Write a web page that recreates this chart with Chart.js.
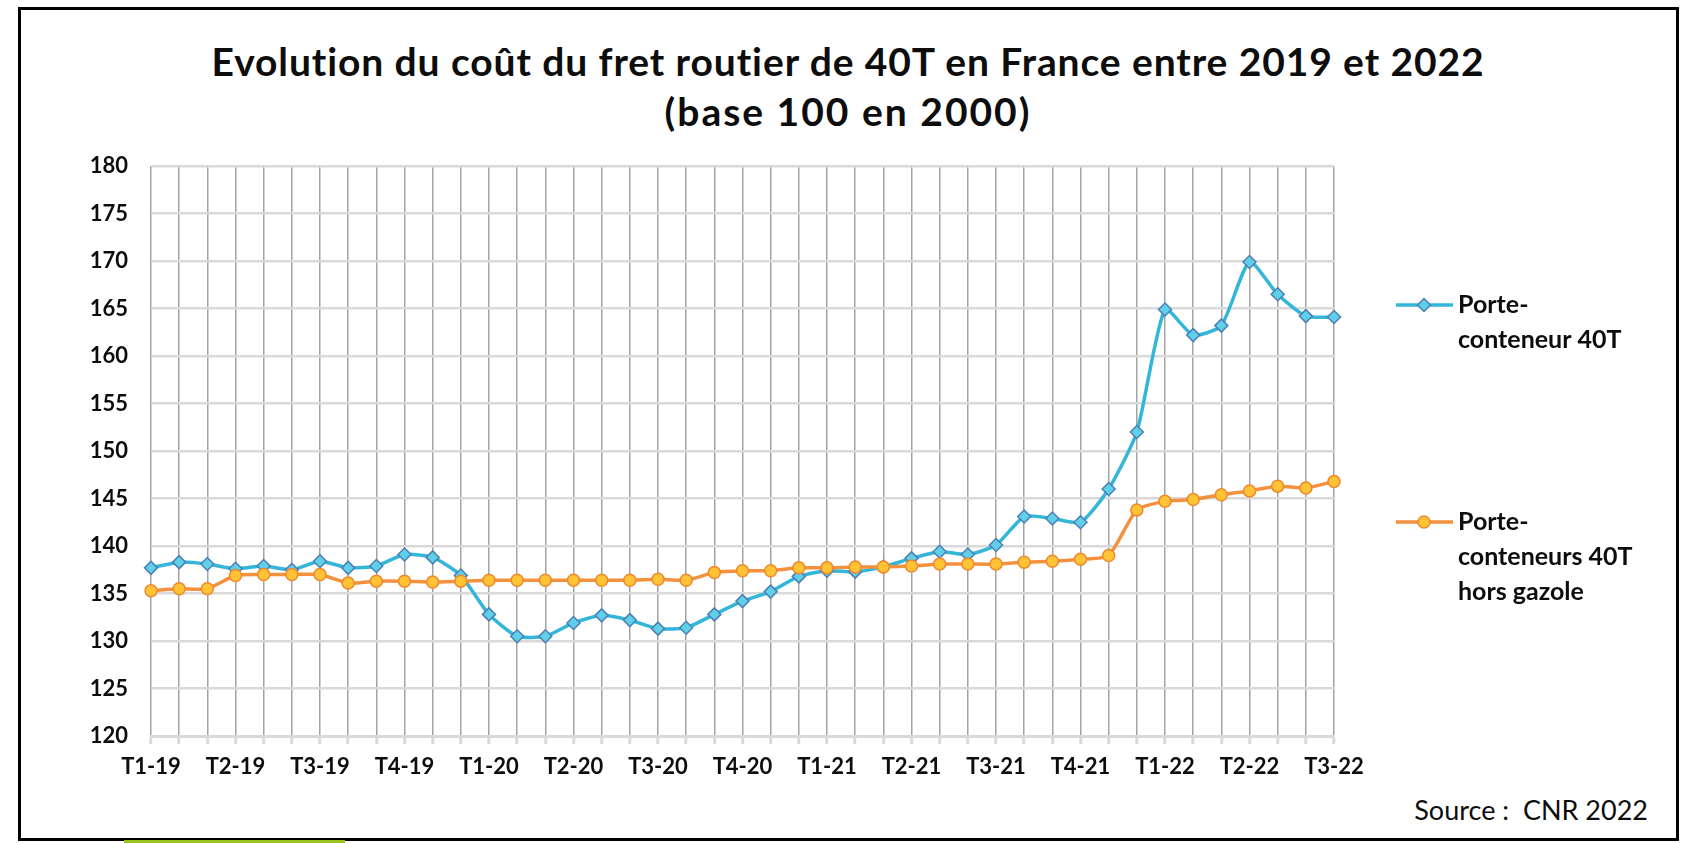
<!DOCTYPE html>
<html lang="fr">
<head>
<meta charset="utf-8">
<script src="https://cdn.jsdelivr.net/npm/chart.js@4/dist/chart.umd.min.js"></script>
<style>
  html, body { margin: 0; padding: 0; background: #fff; }
  body { width: 1692px; height: 843px; position: relative; overflow: hidden; font-family: Lato, sans-serif; color: #0d0d0d; }
  #frame { position: absolute; left: 18px; top: 7px; width: 1655px; height: 828px; border: 3px solid #000; box-sizing: content-box; }
  #greenBar { position: absolute; left: 124px; top: 840px; width: 221px; height: 3px; background: #9bc31d; }
  .title { position: absolute; left: 0; width: 1696px; text-align: center; font-weight: 700; font-size: 39px; line-height: 42px; }
  #t1 { top: 40px; letter-spacing: 0.9px; }
  #t2 { top: 90px; letter-spacing: 2px; }
  #source { position: absolute; right: 44px; top: 794px; font-size: 27px; line-height: 32px; }
  #chartBox { position: absolute; left: 0; top: 0; }
</style>
</head>
<body>
<div id="frame"></div>
<div id="greenBar"></div>
<div class="title" id="t1">Evolution du coût du fret routier de 40T en France entre 2019 et 2022</div>
<div class="title" id="t2">(base 100 en 2000)</div>
<div id="source">Source :&nbsp; CNR 2022</div>
<div id="chartBox"><canvas id="fretChart" width="1692" height="843"></canvas></div>

<script>
// ========== Données (lecture du graphique) ==========
const quarterLabels = ['T1-19', 'T2-19', 'T3-19', 'T4-19', 'T1-20', 'T2-20', 'T3-20', 'T4-20',
                       'T1-21', 'T2-21', 'T3-21', 'T4-21', 'T1-22', 'T2-22', 'T3-22'];

// valeurs mensuelles, T1-19 -> T3-22
const porteConteneur = [
  137.7, 138.3, 138.1, 137.6, 137.9, 137.5, 138.4, 137.7, 137.9, 139.1, 138.8, 136.9,
  132.8, 130.5, 130.5, 131.9, 132.7, 132.2, 131.3, 131.4, 132.8, 134.2, 135.2, 136.8,
  137.4, 137.3, 137.8, 138.7, 139.4, 139.1, 140.1, 143.1, 142.9, 142.5, 146.0, 152.0,
  164.9, 162.2, 163.2, 169.9, 166.5, 164.2, 164.1
];
const horsGazole = [
  135.3, 135.5, 135.5, 136.9, 137.0, 137.0, 137.0, 136.1, 136.3, 136.3, 136.2, 136.3,
  136.4, 136.4, 136.4, 136.4, 136.4, 136.4, 136.5, 136.4, 137.2, 137.4, 137.4, 137.7,
  137.7, 137.8, 137.8, 137.9, 138.1, 138.1, 138.1, 138.3, 138.4, 138.6, 139.0, 143.8,
  144.7, 144.9, 145.4, 145.8, 146.3, 146.1, 146.8
];

const seriesNames = [
  ['Porte-', 'conteneur 40T'],
  ['Porte-', 'conteneurs 40T', 'hors gazole']
];

const yMin = 120, yMax = 180, yStep = 5;

// une étiquette par trimestre, vide pour les autres mois
const monthLabels = porteConteneur.map((v, i) => (i % 3 === 0 ? quarterLabels[i / 3] : ''));

const FONT = 'Lato, sans-serif';
const TEXT = '#0d0d0d';

// ========== Légende à droite (texte sur plusieurs lignes) ==========
const sideLegend = {
    id: 'sideLegend',
    afterDraw(chart) {
        const ctx = chart.ctx;
        const tops = [305, 522];
        ctx.save();
        chart.data.datasets.forEach((ds, i) => {
            const y = tops[i];
            ctx.strokeStyle = ds.borderColor;
            ctx.lineWidth = 3.5;
            ctx.beginPath();
            ctx.moveTo(1396, y);
            ctx.lineTo(1453, y);
            ctx.stroke();

            ctx.fillStyle = ds.pointBackgroundColor;
            ctx.strokeStyle = ds.pointBorderColor;
            ctx.lineWidth = 1.5;
            ctx.beginPath();
            if (ds.pointStyle === 'rectRot') {
                const r = 6.5;
                ctx.moveTo(1424, y - r);
                ctx.lineTo(1424 + r, y);
                ctx.lineTo(1424, y + r);
                ctx.lineTo(1424 - r, y);
                ctx.closePath();
            } else {
                ctx.arc(1424, y, 6, 0, Math.PI * 2);
            }
            ctx.fill();
            ctx.stroke();

            ctx.fillStyle = TEXT;
            ctx.font = `700 25px ${FONT}`;
            ctx.textBaseline = 'middle';
            ctx.textAlign = 'left';
            seriesNames[i].forEach((line, k) => ctx.fillText(line, 1458, y + k * 35));
        });
        ctx.restore();
    }
};

new Chart(document.getElementById('fretChart'), {
    type: 'line',
    data: {
        labels: monthLabels,
        datasets: [
            {
                label: seriesNames[0].join(' '),
                data: porteConteneur,
                borderColor: '#33b6d8',
                borderWidth: 3.5,
                pointStyle: 'rectRot',
                pointRadius: 6.5,
                pointBackgroundColor: '#5fd0ea',
                pointBorderColor: '#4f7fb2',
                pointBorderWidth: 1.5,
                tension: 0.2,
                order: 2
            },
            {
                label: seriesNames[1].join(' '),
                data: horsGazole,
                borderColor: '#f4913f',
                borderWidth: 3.5,
                pointStyle: 'circle',
                pointRadius: 6,
                pointBackgroundColor: '#ffc335',
                pointBorderColor: '#f0882e',
                pointBorderWidth: 1.5,
                tension: 0.2,
                order: 1
            }
        ]
    },
    options: {
        responsive: false,
        animation: false,
        layout: { padding: { left: 51, right: 358, top: 166, bottom: 57 } },
        scales: {
            x: {
                afterFit: s => { s.height = 50; },
                grid: { color: '#a3a3a3', lineWidth: 1.5, tickColor: '#d9d9d9', tickWidth: 3, tickLength: 8 },
                border: { color: '#d9d9d9', width: 3 },
                ticks: {
                    autoSkip: false, maxRotation: 0, padding: 10, color: TEXT,
                    font: { family: FONT, size: 22, weight: '700' }
                }
            },
            y: {
                min: yMin, max: yMax,
                afterFit: s => { s.width = 100; },
                grid: { color: '#d9d9d9', lineWidth: 2.5, drawTicks: false },
                border: { display: false },
                ticks: {
                    stepSize: yStep, padding: 23, color: TEXT,
                    font: { family: FONT, size: 22, weight: '700' }
                }
            }
        },
        plugins: {
            legend: { display: false },
            tooltip: { enabled: false }
        }
    },
    plugins: [sideLegend]
});
</script>
</body>
</html>
